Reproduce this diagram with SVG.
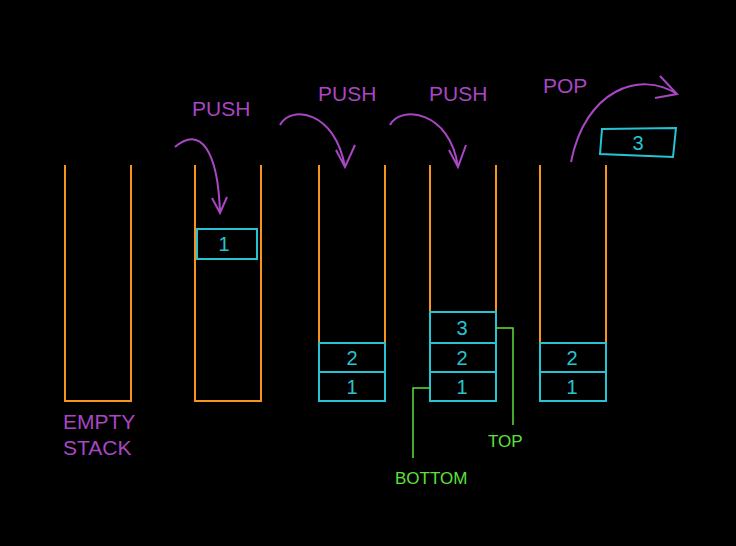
<svg xmlns="http://www.w3.org/2000/svg" width="736" height="546" viewBox="0 0 736 546">
<style>
.st{fill:none;stroke:#f7941d;stroke-width:2}
.bx{fill:none;stroke:#27c3d3;stroke-width:2}
.bt{fill:#27c3d3;font-family:"Liberation Sans",sans-serif;font-size:20px;text-anchor:middle}
.ar{fill:none;stroke:#a846c4;stroke-width:2}
.lb{fill:#a846c4;font-family:"Liberation Sans",sans-serif;font-size:21px}
.gl{fill:none;stroke:#5fe03a;stroke-width:1.5}
.gt{fill:#5fe03a;font-family:"Liberation Sans",sans-serif;font-size:17px}
</style>
<rect width="736" height="546" fill="#000"/>
<g id="stack0"><path class="st" d="M65,165V401H131V165"/><text class="lb" x="63" y="429">EMPTY</text><text class="lb" x="63" y="455">STACK</text></g>
<g id="stack1"><path class="st" d="M195,165V401H261V165"/><rect class="bx" x="197" y="229" width="60" height="30"/><text class="bt" x="224" y="251">1</text></g>
<g id="stack2"><path class="st" d="M319,165V401H385V165"/><rect class="bx" x="319" y="343" width="66" height="29"/><rect class="bx" x="319" y="372" width="66" height="29"/><text class="bt" x="352" y="365">2</text><text class="bt" x="352" y="394">1</text></g>
<g id="stack3"><path class="st" d="M430,165V401H496V165"/><rect class="bx" x="430" y="312" width="66" height="31"/><rect class="bx" x="430" y="343" width="66" height="29"/><rect class="bx" x="430" y="372" width="66" height="29"/><text class="bt" x="462" y="335">3</text><text class="bt" x="462" y="365">2</text><text class="bt" x="462" y="394">1</text></g>
<g id="stack4"><path class="st" d="M540,165V401H606V165"/><rect class="bx" x="540" y="343" width="66" height="29"/><rect class="bx" x="540" y="372" width="66" height="29"/><text class="bt" x="572" y="365">2</text><text class="bt" x="572" y="394">1</text></g>
<g id="popped"><path class="bx" d="M602,129L676,128L673,157L600,154Z"/><text class="bt" x="638" y="150">3</text></g>
<g id="labels"><text class="lb" x="192" y="116">PUSH</text><text class="lb" x="318" y="101">PUSH</text><text class="lb" x="429" y="101">PUSH</text><text class="lb" x="543" y="93">POP</text><text class="gt" x="395" y="484">BOTTOM</text><text class="gt" x="488" y="447">TOP</text></g>
<g id="connectors">
<path class="ar" d="M175,147C200,125 218,150 220,213M212,198L220,213L227,197"/>
<path class="ar" d="M280,125C290,105 335,110 345,167M336,150L345,167L355,145"/>
<path class="ar" d="M390,125C400,105 450,110 458,167M449,150L458,167L466,145"/>
<path class="ar" d="M571,162C585,90 640,70 677,94M660,76L677,94L655,98"/>
<path class="gl" d="M430,388H413V458"/>
<path class="gl" d="M496,328H513V425"/>
</g>
</svg>
